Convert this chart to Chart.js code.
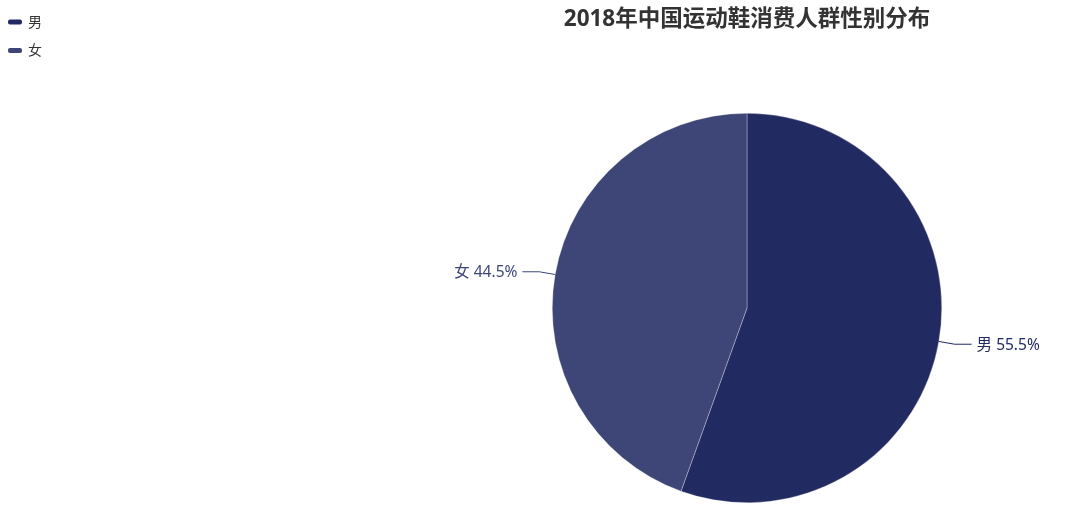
<!DOCTYPE html>
<html><head><meta charset="utf-8">
<script src="https://cdn.jsdelivr.net/npm/chart.js@4"></script>
<style>html,body{margin:0;padding:0;background:#fff;}#wrap{width:1076px;height:527px;}</style>
</head><body><div id="wrap"><canvas id="c" width="1076" height="527"></canvas></div>
<script>
const titleText = '2018年中国运动鞋消费人群性别分布';
const categories = ['男', '女'];
const values = [55.5, 44.5];
const colors = ['#222a62', '#3e4677'];
const FONT = '"Noto Sans", "Noto Sans CJK SC", sans-serif';

const decor = {
  id: 'decor',
  afterDraw(chart) {
    const ctx = chart.ctx;
    ctx.save();
    // title
    ctx.fillStyle = '#333';
    ctx.font = 'bold 22.5px ' + FONT;
    ctx.textAlign = 'center';
    ctx.textBaseline = 'middle';
    const ca = chart.chartArea;
    ctx.fillText(titleText, (ca.left + ca.right) / 2, 20);
    // legend
    ctx.font = '14px ' + FONT;
    ctx.textAlign = 'left';
    categories.forEach((c, i) => {
      const y = 22 + i * 28.5;
      ctx.fillStyle = colors[i];
      const x = 8, w = 14, h = 5, r = 2;
      ctx.beginPath();
      ctx.roundRect(x, y - h / 2, w, h, r);
      ctx.fill();
      ctx.fillStyle = '#333';
      ctx.fillText(c, 28, y + 1);
    });
    // labels
    const meta = chart.getDatasetMeta(0);
    const total = values.reduce((a, b) => a + b, 0);
    meta.data.forEach((arc, i) => {
      const p = arc.getProps(['x', 'y', 'startAngle', 'endAngle', 'outerRadius']);
      const mid = (p.startAngle + p.endAngle) / 2;
      const cos = Math.cos(mid), sin = Math.sin(mid);
      const x1 = p.x + cos * p.outerRadius, y1 = p.y + sin * p.outerRadius;
      const x2 = p.x + cos * (p.outerRadius + 16), y2 = p.y + sin * (p.outerRadius + 16);
      const dir = cos >= 0 ? 1 : -1;
      const x3 = x2 + dir * 17;
      ctx.strokeStyle = colors[i];
      ctx.lineWidth = 1;
      ctx.beginPath();
      ctx.moveTo(x1, y1); ctx.lineTo(x2, y2); ctx.lineTo(x3, y2);
      ctx.stroke();
      ctx.fillStyle = colors[i];
      ctx.font = '15.5px ' + FONT;
      ctx.textAlign = dir > 0 ? 'left' : 'right';
      ctx.textBaseline = 'middle';
      const pct = (values[i] / total * 100).toFixed(1) + '%';
      ctx.fillText(categories[i] + ' ' + pct, x3 + dir * 5, y2 + 1);
    });
    ctx.restore();
  }
};

new Chart(document.getElementById('c'), {
  type: 'pie',
  data: {
    labels: categories,
    datasets: [{ data: values, backgroundColor: colors, borderColor: 'rgba(255,255,255,0.6)', borderWidth: 0.5, hoverOffset: 0 }]
  },
  options: {
    responsive: false,
    animation: false,
    devicePixelRatio: 1,
    layout: { padding: { left: 552, right: 134, top: 113, bottom: 24 } },
    plugins: { legend: { display: false }, title: { display: false }, tooltip: { enabled: false } }
  },
  plugins: [decor]
});
</script>
</body></html>
